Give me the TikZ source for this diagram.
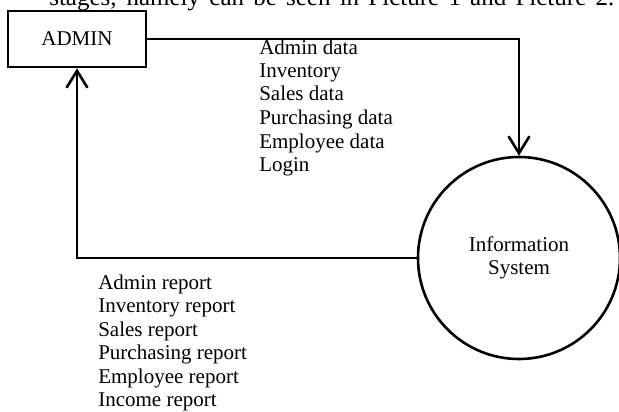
\documentclass[tikz,border=0pt]{standalone}
\usepackage{fontspec}
\setmainfont{Liberation Serif}
\usetikzlibrary{positioning,arrows.meta}

\begin{document}
\begin{tikzpicture}[x=1pt,y=-1pt,line width=2.6pt,
    every node/.style={font=\fontsize{21}{23.5}\selectfont},
    flow/.style={-{Straight Barb[length=17pt,width=21pt]}},
    datalist/.style={anchor=base west,align=left,inner sep=0pt}]
                \useasboundingbox (0,0) rectangle (619,412);
                \clip (0,0) rectangle (619,412);
                \node[anchor=base west,inner sep=0pt,font=\fontsize{25}{28}\selectfont] (intro) at (48,5.5)
                    {\makebox[565pt][s]{stages, namely can be seen in Picture 1 and Picture 2.}};
                \node[draw,minimum width=138pt,minimum height=56pt] (admin) at (77,39) {ADMIN};
                \node[draw,circle,minimum size=202pt,align=center] (sys) at (519,258) {Information\\System};
                \draw[flow] (admin.east) -| (sys.north);
                \draw[flow] (sys.west) -| (admin.south);
                % base anchor sits on the last line
                \node[datalist] (input) at (258,171.5)
                    {Admin data\\Inventory\\Sales data\\Purchasing data\\Employee data\\Login};
                \node[datalist] (output) at (97,406.5)
                    {Admin report\\Inventory report\\Sales report\\Purchasing report\\Employee report\\Income report};
            \end{tikzpicture}
\end{document}
